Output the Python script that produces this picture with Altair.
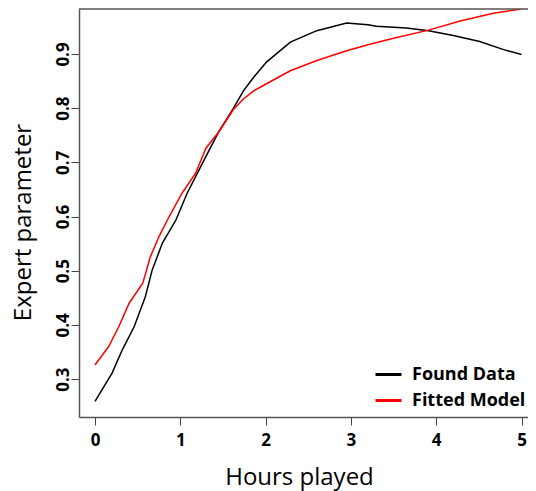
import altair as alt
import pandas as pd

# Found Data (black)
found_hours = [0.0, 0.2, 0.32, 0.46, 0.59, 0.67, 0.79, 0.95, 1.08, 1.22, 1.34, 1.45, 1.62, 1.74,
               1.86, 2.01, 2.29, 2.6, 2.95, 3.2, 3.3, 3.65, 3.91, 4.2, 4.51, 4.79, 5.0]
found_vals = [0.259, 0.311, 0.354, 0.397, 0.452, 0.501, 0.551, 0.594, 0.643, 0.686, 0.723, 0.756,
              0.799, 0.832, 0.857, 0.885, 0.922, 0.943, 0.957, 0.954, 0.951, 0.948, 0.943, 0.934,
              0.923, 0.908, 0.899]

# Fitted Model (red)
fitted_hours = [0.0, 0.16, 0.28, 0.4, 0.56, 0.65, 0.75, 0.87, 1.02, 1.18, 1.3, 1.45, 1.62, 1.74,
                1.86, 2.01, 2.29, 2.6, 2.95, 3.2, 3.5, 3.91, 4.28, 4.67, 5.0]
fitted_vals = [0.326, 0.360, 0.397, 0.440, 0.477, 0.526, 0.563, 0.600, 0.643, 0.680, 0.726, 0.756,
               0.797, 0.817, 0.832, 0.845, 0.869, 0.888, 0.906, 0.917, 0.929, 0.944, 0.961, 0.975,
               0.983]

series_names = ["Found Data", "Fitted Model"]
series_colors = ["#000000", "#ff0000"]
x_ticks = [0, 1, 2, 3, 4, 5]
y_ticks = [0.3, 0.4, 0.5, 0.6, 0.7, 0.8, 0.9]

df = pd.concat([
    pd.DataFrame({"hours": found_hours, "value": found_vals, "series": series_names[0], "order": range(len(found_hours))}),
    pd.DataFrame({"hours": fitted_hours, "value": fitted_vals, "series": series_names[1], "order": range(len(fitted_hours))}),
])

W, H = 449, 408
FONT = "Open Sans"

lines = alt.Chart(df).mark_line(strokeWidth=1.5, clip=True).encode(
    x=alt.X("hours:Q",
            scale=alt.Scale(domain=[-0.1876, 5.076], nice=False, zero=False),
            axis=alt.Axis(values=x_ticks, format="d", grid=False,
                          tickSize=8, tickColor="#444", tickWidth=1,
                          domainColor="#555", domainWidth=1.5,
                          labelFont=FONT, labelFontSize=17, labelFontWeight="bold",
                          labelColor="black", labelPadding=7,
                          title="Hours played", titleFont=FONT, titleFontSize=24,
                          titleFontWeight="normal", titleColor="black",
                          titleX=220, titleY=67, titleBaseline="alphabetic",
                          titleAlign="center")),
    y=alt.Y("value:Q",
            scale=alt.Scale(domain=[0.23, 0.983], nice=False, zero=False),
            axis=alt.Axis(values=y_ticks, format=".1f", grid=False,
                          tickSize=8, tickColor="#444", tickWidth=1,
                          domainColor="#555", domainWidth=1.5,
                          labelFont=FONT, labelFontSize=17, labelFontWeight="bold",
                          labelColor="black", labelAngle=270, labelAlign="center",
                          labelBaseline="alphabetic", labelPadding=3,
                          title="Expert parameter", titleFont=FONT, titleFontSize=24,
                          titleFontWeight="normal", titleColor="black",
                          titleAngle=270, titleX=-49, titleY=213,
                          titleBaseline="alphabetic", titleAlign="center")),
    color=alt.Color("series:N",
                    scale=alt.Scale(domain=series_names, range=series_colors),
                    legend=alt.Legend(orient="none", legendX=295, legendY=351, title=None,
                                      symbolType="stroke", symbolSize=676, symbolStrokeWidth=3,
                                      labelFont=FONT, labelFontSize=18, labelFontWeight="bold",
                                      labelColor="black", labelOffset=9, padding=0,
                                      rowPadding=2)),
    order="order:Q",
)

top_border = alt.Chart(pd.DataFrame({"k": [0]})).mark_rule(color="#555", strokeWidth=1.5).encode(
    x=alt.value(0), x2=alt.value(W), y=alt.value(0)
)

chart = alt.layer(lines, top_border).properties(
    width=W, height=H,
    autosize=alt.AutoSizeParams(type="none"),
    padding={"left": 71, "top": 1, "right": 0, "bottom": 74},
).configure_view(stroke=None)

chart.save("out.html", embed_options={"renderer": "svg", "actions": False})
